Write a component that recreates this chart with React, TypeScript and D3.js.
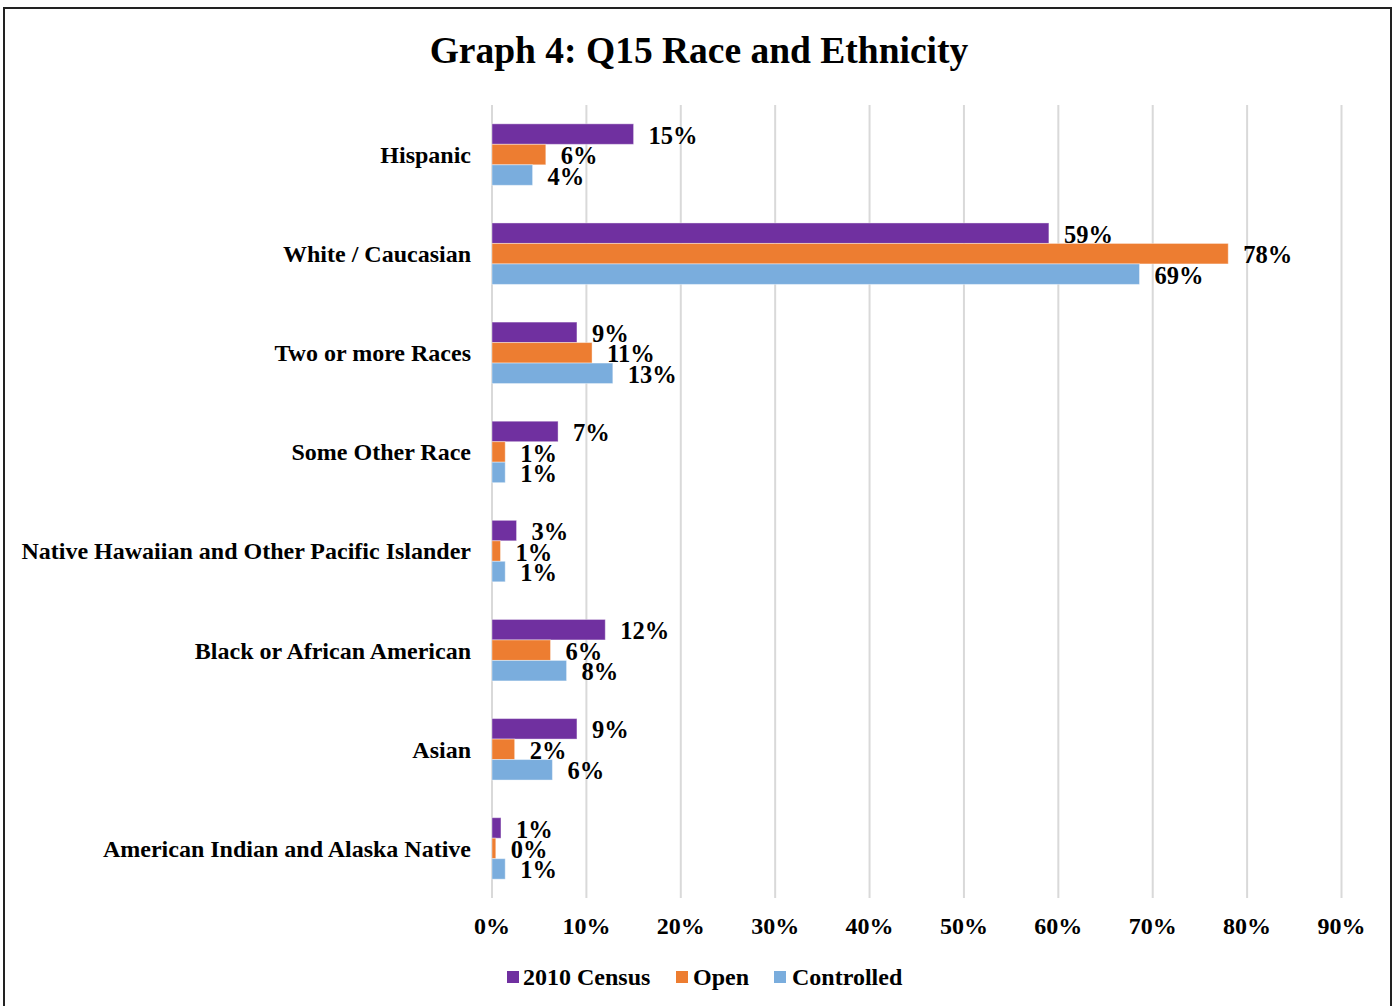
import React from "react";
import * as d3 from "d3";

const categories = [
  "Hispanic",
  "White / Caucasian",
  "Two or more Races",
  "Some Other Race",
  "Native Hawaiian and Other Pacific Islander",
  "Black or African American",
  "Asian",
  "American Indian and Alaska Native",
];
const seriesNames = ["2010 Census", "Open", "Controlled"];
const seriesColors = ["#7030A0", "#ED7D31", "#7AADDD"];
const census2010 = [15.0, 59.0, 9.0, 7.0, 2.6, 12.0, 9.0, 0.95];
const openVals = [5.7, 78.0, 10.6, 1.4, 0.9, 6.2, 2.4, 0.4];
const controlledVals = [4.3, 68.6, 12.8, 1.4, 1.4, 7.9, 6.4, 1.4];
const xTicks = [0, 10, 20, 30, 40, 50, 60, 70, 80, 90];

const W = 1396;
const H = 1006;
const FONT = "'Liberation Serif', 'Times New Roman', serif";

export default function App() {
  const series = [census2010, openVals, controlledVals];
  const x = d3.scaleLinear().domain([0, 90]).range([492, 1341.5]);
  const y = d3.scaleBand<string>().domain(categories).range([105, 898]).paddingInner(0.38).paddingOuter(0.19);
  const sub = d3.scaleBand<number>().domain([0, 1, 2]).range([0, y.bandwidth()]);

  return (
    <svg width={W} height={H} style={{ position: "absolute", left: 0, top: 0 }} fontFamily={FONT}>
      <rect x={0} y={0} width={W} height={H} fill="#fff" />
      <rect x={4} y={8} width={1387} height={1010} fill="none" stroke="#222" strokeWidth={2} />
      <text x={699} y={63} textAnchor="middle" fontSize={37.5} fontWeight="bold">
        Graph 4: Q15 Race and Ethnicity
      </text>
      {xTicks.map((t) => (
        <line key={t} x1={x(t)} x2={x(t)} y1={105} y2={898} stroke="#D9D9D9" strokeWidth={2} />
      ))}
      {xTicks.map((t) => (
        <text key={"l" + t} x={x(t)} y={926} dy="0.35em" textAnchor="middle" fontSize={24} fontWeight="bold">
          {t}%
        </text>
      ))}
      {categories.map((c, i) => (
        <g key={c}>
          <text x={471} y={(y(c) as number) + y.bandwidth() / 2} dy="0.35em" textAnchor="end" fontSize={24} fontWeight="bold">
            {c}
          </text>
          {series.map((s, k) => {
            const by = (y(c) as number) + (sub(k) as number);
            return (
              <g key={k}>
                <rect
                  x={x(0)}
                  y={by}
                  width={x(s[i]) - x(0)}
                  height={sub.bandwidth()}
                  fill={seriesColors[k]}
                  stroke="#fff"
                  strokeOpacity={0.4}
                  strokeWidth={1}
                />
                <text x={x(s[i]) + 15} y={by + sub.bandwidth() / 2 + 1} dy="0.35em" fontSize={24.5} fontWeight="bold">
                  {Math.round(s[i])}%
                </text>
              </g>
            );
          })}
        </g>
      ))}
      {(() => {
        const items = [507, 676, 774];
        const textX = [523, 693, 792];
        return seriesNames.map((n, k) => (
          <g key={n}>
            <rect x={items[k]} y={971} width={12} height={12} fill={seriesColors[k]} />
            <text x={textX[k]} y={977} dy="0.35em" fontSize={24} fontWeight="bold">
              {n}
            </text>
          </g>
        ));
      })()}
    </svg>
  );
}
